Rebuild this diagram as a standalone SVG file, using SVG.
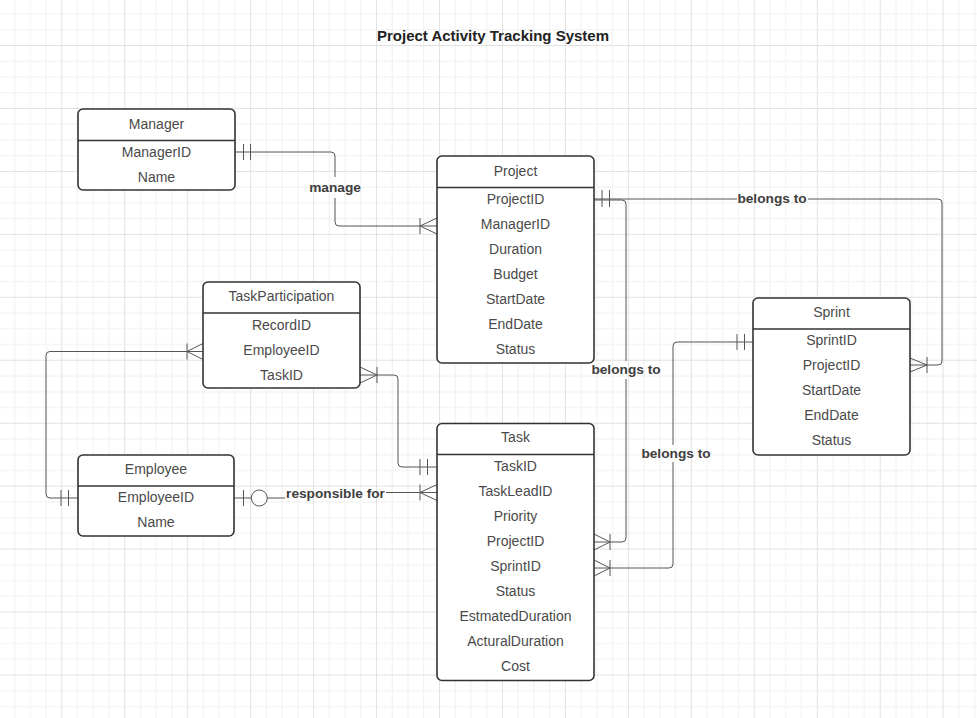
<svg xmlns="http://www.w3.org/2000/svg" width="977" height="718" viewBox="0 0 977 718">
<defs>
<pattern id="grid" x="61.3" y="45" width="62.95" height="62.95" patternUnits="userSpaceOnUse">
<path d="M16.24 0V62.95M31.97 0V62.95M47.71 0V62.95M0 16.24H62.95M0 31.97H62.95M0 47.71H62.95" stroke="#f0f0f0" stroke-width="1" fill="none"/>
<path d="M0.5 0V62.95M0 0.5H62.95" stroke="#e1e1e1" stroke-width="1" fill="none"/>
</pattern>
<style>
.box{fill:#ffffff;stroke:#333333;stroke-width:1.6}
.div{stroke:#333333;stroke-width:1.6}
.t{font-family:"Liberation Sans",Arial,sans-serif;font-size:14px;fill:#4a4a4a;text-anchor:middle}
.lbl{font-family:"Liberation Sans",Arial,sans-serif;font-size:13.7px;font-weight:bold;fill:#3e3e3e;text-anchor:middle}
.title{font-family:"Liberation Sans",Arial,sans-serif;font-size:15px;font-weight:bold;fill:#222222;text-anchor:middle}
.ln{fill:none;stroke:#555555;stroke-width:1}
</style>
</defs>
<rect x="0" y="0" width="977" height="718" fill="#ffffff"/>
<rect x="0" y="0" width="977" height="718" fill="url(#grid)"/>
<text class="title" x="493" y="41">Project Activity Tracking System</text>

<g id="connectors">
<!-- Manager - Project -->
<path class="ln" d="M235 152 H331 Q335 152 335 156 V177 M335 198 V222 Q335 226 339 226 H437"/>
<path class="ln" d="M243.5 144 V160 M250.5 144 V160"/>
<path class="ln" d="M420 218 V234 M420 226 L437 218 M420 226 L437 234"/>
<text class="lbl" x="335" y="192">manage</text>
<!-- Project - Sprint -->
<path class="ln" d="M594 199 H737 M808 199 H938 Q942 199 942 203 V361 Q942 365 938 365 H910"/>
<path class="ln" d="M602 190 V207 M609.5 190 V207"/>
<path class="ln" d="M927 357 V373 M927 365 L910 358 M927 365 L910 372"/>
<text class="lbl" x="772" y="203">belongs to</text>
<!-- Task - Project -->
<path class="ln" d="M594 200 H622 Q626 200 626 204 V361 M626 379 V538 Q626 542 622 542 H594"/>
<path class="ln" d="M610 534 V550 M610 542 L594 534 M610 542 L594 550"/>
<text class="lbl" x="626" y="374">belongs to</text>
<!-- Task - Sprint -->
<path class="ln" d="M594 568 H669 Q673 568 673 564 V462 M673 445 V346 Q673 342 677 342 H753"/>
<path class="ln" d="M737 334 V350 M744.5 334 V350"/>
<path class="ln" d="M610 560 V576 M610 568 L594 560 M610 568 L594 576"/>
<text class="lbl" x="676" y="458">belongs to</text>
<!-- TaskParticipation - Employee -->
<path class="ln" d="M203 351.5 H50 Q46 351.5 46 355.5 V494 Q46 498 50 498 H78"/>
<path class="ln" d="M187 343.5 V359.5 M187 351.5 L203 343.5 M187 351.5 L203 359.5"/>
<path class="ln" d="M61 490 V506 M68.5 490 V506"/>
<!-- TaskParticipation - Task -->
<path class="ln" d="M360 375 H394 Q398 375 398 379 V463 Q398 467 402 467 H437"/>
<path class="ln" d="M377 367 V383 M377 375 L360 367 M377 375 L360 383"/>
<path class="ln" d="M420 459 V475 M427.5 459 V475"/>
<!-- Employee - Task -->
<path class="ln" d="M234 498 H251.3 M267.3 498 H285 M386 492.5 H437"/>
<circle class="ln" cx="259.3" cy="498" r="8"/>
<path class="ln" d="M243.5 490 V506"/>
<path class="ln" d="M420 484.5 V500.5 M420 492.5 L437 484.5 M420 492.5 L437 500.5"/>
<text class="lbl" x="335.5" y="498">responsible for</text>
</g>

<g id="manager">
<rect class="box" x="78" y="109" width="157" height="81" rx="5"/>
<line class="div" x1="78" y1="140.5" x2="235" y2="140.5"/>
<text class="t" x="156.5" y="128.5">Manager</text>
<text class="t" x="156.5" y="157">ManagerID</text>
<text class="t" x="156.5" y="182">Name</text>
</g>

<g id="project">
<rect class="box" x="437" y="156" width="157" height="207" rx="5"/>
<line class="div" x1="437" y1="187.5" x2="594" y2="187.5"/>
<text class="t" x="515.5" y="175.5">Project</text>
<text class="t" x="515.5" y="203.5">ProjectID</text>
<text class="t" x="515.5" y="228.5">ManagerID</text>
<text class="t" x="515.5" y="253.5">Duration</text>
<text class="t" x="515.5" y="278.5">Budget</text>
<text class="t" x="515.5" y="303.5">StartDate</text>
<text class="t" x="515.5" y="328.5">EndDate</text>
<text class="t" x="515.5" y="353.5">Status</text>
</g>

<g id="sprint">
<rect class="box" x="753" y="298" width="157" height="157" rx="5"/>
<line class="div" x1="753" y1="329" x2="910" y2="329"/>
<text class="t" x="831.5" y="317">Sprint</text>
<text class="t" x="831.5" y="345">SprintID</text>
<text class="t" x="831.5" y="370">ProjectID</text>
<text class="t" x="831.5" y="395">StartDate</text>
<text class="t" x="831.5" y="420">EndDate</text>
<text class="t" x="831.5" y="445">Status</text>
</g>

<g id="taskparticipation">
<rect class="box" x="203" y="282" width="157" height="106" rx="5"/>
<line class="div" x1="203" y1="313" x2="360" y2="313"/>
<text class="t" x="281.5" y="301">TaskParticipation</text>
<text class="t" x="281.5" y="329.5">RecordID</text>
<text class="t" x="281.5" y="354.5">EmployeeID</text>
<text class="t" x="281.5" y="379.5">TaskID</text>
</g>

<g id="employee">
<rect class="box" x="78" y="455" width="156" height="81" rx="5"/>
<line class="div" x1="78" y1="486" x2="234" y2="486"/>
<text class="t" x="156" y="474">Employee</text>
<text class="t" x="156" y="502">EmployeeID</text>
<text class="t" x="156" y="527">Name</text>
</g>

<g id="task">
<rect class="box" x="437" y="423.5" width="157" height="257" rx="5"/>
<line class="div" x1="437" y1="454.5" x2="594" y2="454.5"/>
<text class="t" x="515.5" y="442">Task</text>
<text class="t" x="515.5" y="471">TaskID</text>
<text class="t" x="515.5" y="496">TaskLeadID</text>
<text class="t" x="515.5" y="521">Priority</text>
<text class="t" x="515.5" y="546">ProjectID</text>
<text class="t" x="515.5" y="571">SprintID</text>
<text class="t" x="515.5" y="596">Status</text>
<text class="t" x="515.5" y="621">EstmatedDuration</text>
<text class="t" x="515.5" y="646">ActuralDuration</text>
<text class="t" x="515.5" y="671">Cost</text>
</g>
</svg>
